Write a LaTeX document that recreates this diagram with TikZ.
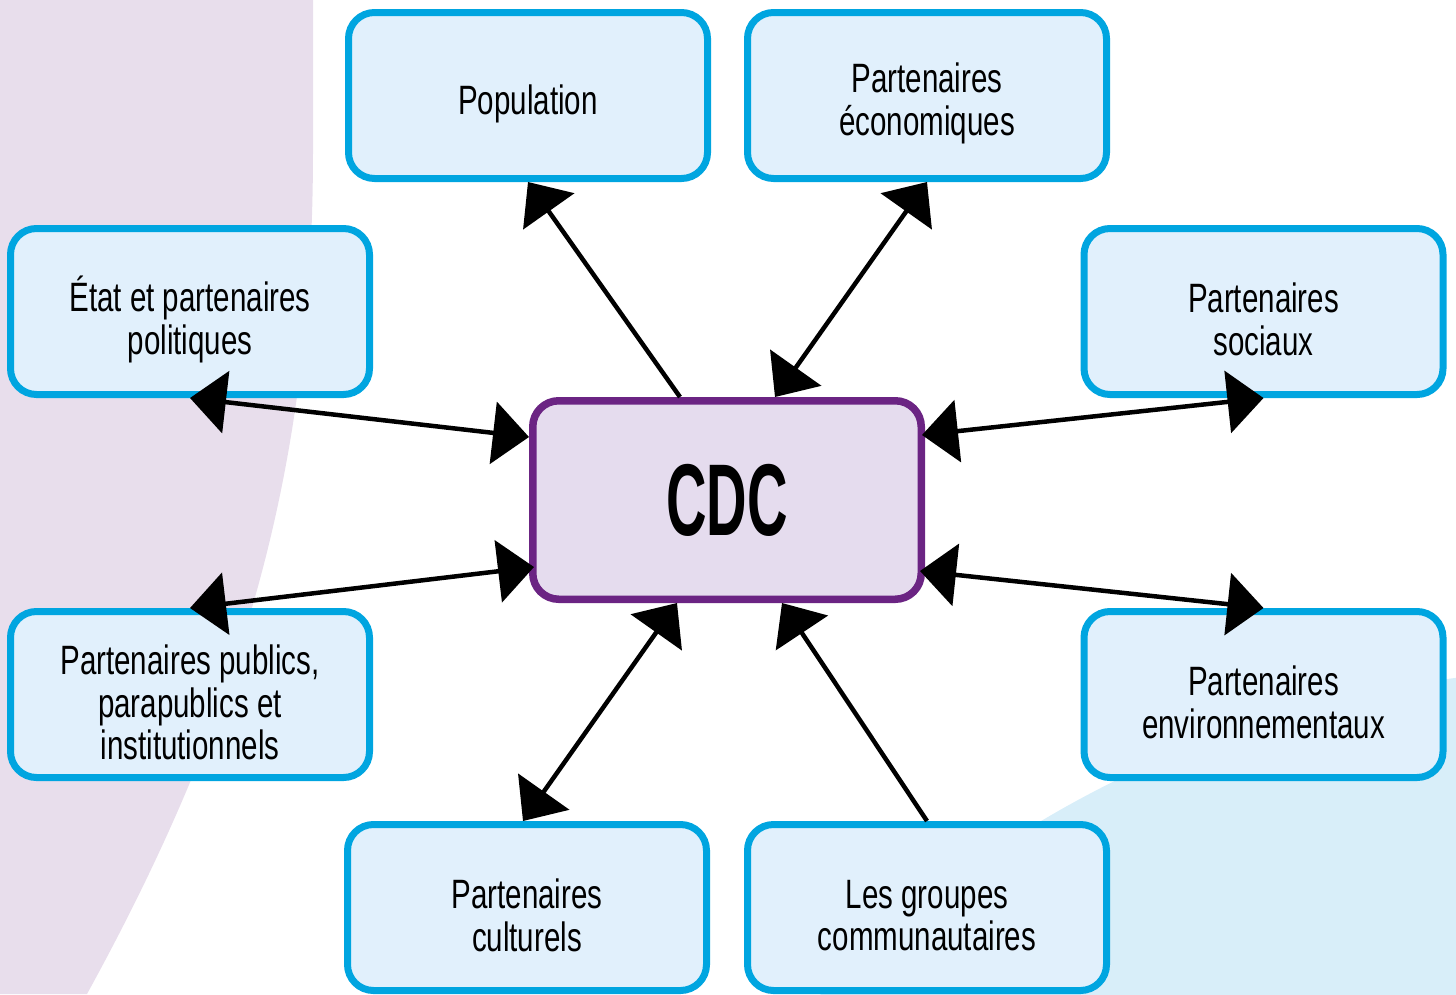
\documentclass[tikz,border=0pt]{standalone}
\usepackage{fontspec}
\setmainfont[FakeStretch=0.72]{Liberation Sans}
\newfontfamily\hubfont[FakeStretch=0.55]{Liberation Sans}
\usetikzlibrary{arrows.meta,calc}

\definecolor{lavbg}{HTML}{E8DEEC}
\definecolor{skybg}{HTML}{D8EEF9}
\definecolor{boxfill}{HTML}{E1F0FC}
\definecolor{boxline}{HTML}{00A5E0}
\definecolor{hubline}{HTML}{6B2483}
\definecolor{hubfill}{HTML}{E5DCEE}

\tikzset{
  partner/.style={draw=boxline, line width=7pt, fill=boxfill,
    rounded corners=26pt, minimum width=359pt, minimum height=166pt,
    inner sep=0pt, align=center, text=black,
    font=\fontsize{41}{42.5}\selectfont},
  label/.style={yshift=-8pt, align=center, text=black,
    font=\fontsize{41}{42.5}\selectfont},
  hub/.style={draw=hubline, line width=7.5pt, fill=hubfill,
    rounded corners=26pt, minimum width=388.5pt, minimum height=198.5pt,
    inner sep=0pt, text=black,
    font=\hubfont\bfseries\fontsize{102}{102}\selectfont},
  link/.style={line width=4.5pt, draw=black},
  >={Triangle[length=36pt,width=62pt]}
}

\begin{document}
\begin{tikzpicture}[x=1pt,y=-1pt]
  \useasboundingbox (0,0) rectangle (1456,994);

  % background shapes
  \fill[lavbg] (0,0) -- (313,0) -- (313,150)
    .. controls (313,450) and (252,694) .. (87,994) -- (0,994) -- cycle;
  \begin{scope}
    \clip (0,0) rectangle (1456,994);
    \fill[skybg] (1595,1753) circle (1084pt);
  \end{scope}

  % centre
  \node[hub] (cdc) at (727,500) {CDC};

  % partner boxes
  \node[partner] (pop)  at (528,95.5)     {};
  \node[partner] (eco)  at (927,95.5)     {};
  \node[partner] (etat) at (190,311.5)    {};
  \node[partner] (soc)  at (1263.5,311.5) {};
  \node[partner] (pub)  at (190,694.5)    {};
  \node[partner] (env)  at (1263.5,694.5) {};
  \node[partner] (cult) at (527,907.5)    {};
  \node[partner] (grp)  at (927,907.5)    {};

  % partner labels, set a little below the box centres
  \node[label] (popt)  at (pop)  {Population};
  \node[label] (ecot)  at (eco)  {Partenaires\\économiques};
  \node[label] (etatt) at (etat) {État et partenaires\\politiques};
  \node[label] (soct)  at (soc)  {Partenaires\\sociaux};
  \node[label] (pubt)  at (pub)  {Partenaires publics,\\parapublics et\\institutionnels};
  \node[label] (envt)  at (env)  {Partenaires\\environnementaux};
  \node[label] (cultt) at (cult) {Partenaires\\culturels};
  \node[label] (grpt)  at (grp)  {Les groupes\\communautaires};

  % connectors
  \draw[link,->]  ($(cdc.north)+(-47,0)$) -- (pop.south);
  \draw[link,<->] ($(cdc.north)+(48,0)$) -- (eco.south);
  \draw[link,<->] (etat.south) -- ($(cdc.west)+(0,-63)$);
  \draw[link,<->] ($(cdc.east)+(-3,-65)$) -- (soc.south);
  \draw[link,<->] (pub.north) -- ($(cdc.west)+(5,67)$);
  \draw[link,<->] ($(cdc.east)+(-5,71)$) -- (env.north);
  \draw[link,<->] ($(cdc.south)+(-50,0)$) -- ($(cult.north)+(-4,0)$);
  \draw[link,->]  (grp.north) -- ($(cdc.south)+(55,0)$);
\end{tikzpicture}
\end{document}
